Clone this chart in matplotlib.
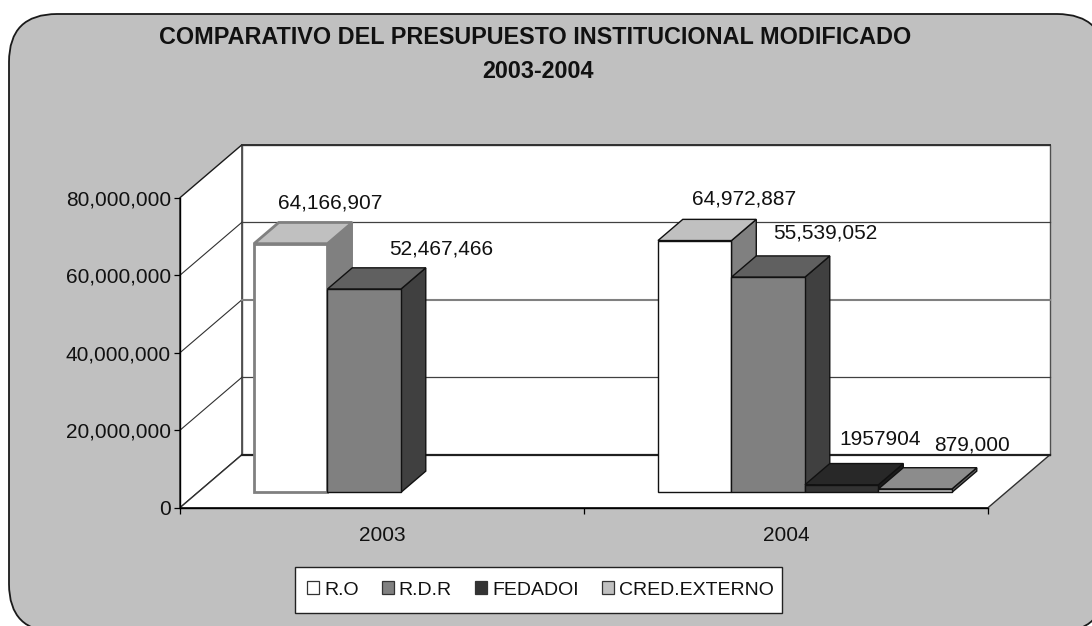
import matplotlib
matplotlib.use("Agg")
import matplotlib.pyplot as plt
from matplotlib.patches import FancyBboxPatch, Patch, Polygon, Rectangle
from matplotlib.ticker import FuncFormatter

plt.rcParams['font.family'] = ['Liberation Sans', 'DejaVu Sans']

years = ['2003', '2004']
series_names = ['R.O', 'R.D.R', 'FEDADOI', 'CRED.EXTERNO']
r_o = [64166907, 64972887]
r_d_r = [52467466, 55539052]
fedadoi = [0, 1957904]
cred_externo = [0, 879000]
label_text = [['64,166,907', '64,972,887'],
              ['52,467,466', '55,539,052'],
              ['', '1957904'],
              ['', '879,000']]
y_ticks = [0, 20000000, 40000000, 60000000, 80000000]

W, H = 1092, 626
# pixel box of the front plane
x0, x1, ytop, ybot = 180, 988, 197.7, 507.7
# wall depth in pixels
depth_px_x, depth_px_y = 62, 53

# front, top, side
colors = [('#ffffff', '#c0c0c0', '#808080'),
          ('#808080', '#606060', '#404040'),
          ('#333333', '#282828', '#1c1c1c'),
          ('#c0c0c0', '#8c8c8c', '#606060')]
legend_colors = ['#ffffff', '#808080', '#333333', '#c0c0c0']
# label offsets from front top left corner of the bar, pixels
offsets = [[(76, 41), (86, 42)],
           [(114, 40), (94, 44)],
           [(0, 0), (75, 45)],
           [(0, 0), (94, 44)]]

fig = plt.figure(figsize=(W / 100, H / 100), dpi=100, facecolor='white')

bg = fig.add_axes([0, 0, 1, 1])
bg.set_xlim(0, W)
bg.set_ylim(H, 0)
bg.axis('off')
bg.add_patch(FancyBboxPatch((9 + 48, 14 + 48), 1096 - 96, 618 - 96,
                            boxstyle='round,pad=48,rounding_size=48',
                            fc='#c0c0c0', ec='#1a1a1a', lw=1.3))
# legend frame
bg.add_patch(Rectangle((295, 567), 487, 46, fc='white', ec='#222222', lw=1.0))

ax = fig.add_axes([x0 / W, 1 - ybot / H, (x1 - x0) / W, (ybot - ytop) / H])
ax.set_xlim(0, 2)
ax.set_ylim(0, 80000000)
ax.patch.set_visible(False)

per_x = 2 / (x1 - x0)
per_y = 80000000 / (ybot - ytop)
dx = depth_px_x * per_x
dy = depth_px_y * per_y


def pt(x, v, d=0.0):
    return (x + d * dx, v + d * dy)


def poly(points, fc, ec='black', lw=1.0, z=2):
    ax.add_patch(Polygon(points, closed=True, fc=fc, ec=ec, lw=lw, zorder=z,
                         clip_on=False, joinstyle='miter'))


# walls and floor
poly([pt(0, 0), pt(0, 80000000), pt(0, 80000000, 1), pt(0, 0, 1)], 'white', '#1a1a1a', 1.0, 1)
poly([pt(0, 0, 1), pt(0, 80000000, 1), pt(2, 80000000, 1), pt(2, 0, 1)], 'white', '#505050', 1.0, 1)
poly([pt(0, 0), pt(2, 0), pt(2, 0, 1), pt(0, 0, 1)], 'white', '#303030', 1.0, 1)
ax.plot(*zip(pt(0, 0, 1), pt(2, 0, 1)), color='#202020', lw=1.6, zorder=1.5, clip_on=False)
ax.plot(*zip(pt(0, 80000000, 1), pt(2, 80000000, 1)), color='#303030', lw=1.4, zorder=1.5, clip_on=False)
for v in y_ticks[1:-1]:
    ax.plot(*zip(pt(0, v), pt(0, v, 1)), color='#303030', lw=0.8, zorder=1.5, clip_on=False)
    grey = v == 40000000
    ax.plot(*zip(pt(0, v, 1), pt(2, v, 1)), color='#808080' if grey else '#404040',
            lw=1.5 if grey else 0.9, zorder=1.5, clip_on=False)

# bars
bar_w = 73.5 * per_x
start = 56 * per_x
d_front, d_back = 0.29, 0.69
values = [r_o, r_d_r, fedadoi, cred_externo]
for i, yr in enumerate(years):
    for j, vals in enumerate(values):
        v = vals[i]
        if v == 0:
            continue
        xl = i + start + j * bar_w
        xr = xl + bar_w
        front, top, side = colors[j]
        grey_edge = (i == 0 and j == 0)
        ec = '#808080' if grey_edge else '#111111'
        lw = 2.0 if grey_edge else 1.0
        base = 2 + i + j * 0.1
        poly([pt(xr, 0, d_front), pt(xr, v, d_front), pt(xr, v, d_back), pt(xr, 0, d_back)],
             side, '#111111' if not grey_edge else '#808080', 1.0, base)
        poly([pt(xl, v, d_front), pt(xr, v, d_front), pt(xr, v, d_back), pt(xl, v, d_back)],
             top, ec, lw, base)
        poly([pt(xl, 0, d_front), pt(xr, 0, d_front), pt(xr, v, d_front), pt(xl, v, d_front)],
             front, ec, lw, base + 0.01)
        ox, oy = offsets[j][i]
        ax.annotate(label_text[j][i], xy=pt(xl, v, d_front),
                    xytext=(ox * 0.72, oy * 0.72), textcoords='offset points',
                    ha='center', va='center', fontsize=15, color='#111111',
                    zorder=20, annotation_clip=False)

for s in ['top', 'right']:
    ax.spines[s].set_visible(False)
ax.spines['left'].set_linewidth(1.0)
ax.spines['bottom'].set_linewidth(1.0)
ax.set_yticks(y_ticks)
ax.yaxis.set_major_formatter(FuncFormatter(lambda v, p: f'{int(v):,}'))
ax.tick_params(axis='y', length=4.5, width=0.9, pad=2, labelsize=15, labelcolor='#111111')
ax.set_xticks([0, 1, 2])
ax.set_xticklabels([])
ax.tick_params(axis='x', which='major', length=4.5, width=0.9)
ax.set_xticks([0.5, 1.5], years, minor=True)
ax.tick_params(axis='x', which='minor', length=0, pad=13.5, labelsize=15, labelcolor='#111111')

fig.text(535.5 / W, 1 - 37 / H, 'COMPARATIVO DEL PRESUPUESTO INSTITUCIONAL MODIFICADO',
         ha='center', va='center', fontsize=16.8, fontweight='bold', color='#111111')
fig.text(538 / W, 1 - 72 / H, '2003-2004',
         ha='center', va='center', fontsize=16.8, fontweight='bold', color='#111111')

handles = [Patch(fc=c, ec='#333333', lw=0.9) for c in legend_colors]
leg = fig.legend(handles, series_names, ncol=4, loc='center',
                 bbox_to_anchor=(540.5 / W, 1 - 590 / H), fontsize=14, frameon=False,
                 handlelength=0.62, handleheight=0.62, handletextpad=0.25,
                 columnspacing=1.2, borderpad=0.78, labelcolor='#111111')

fig.savefig('out.png', dpi=100)
